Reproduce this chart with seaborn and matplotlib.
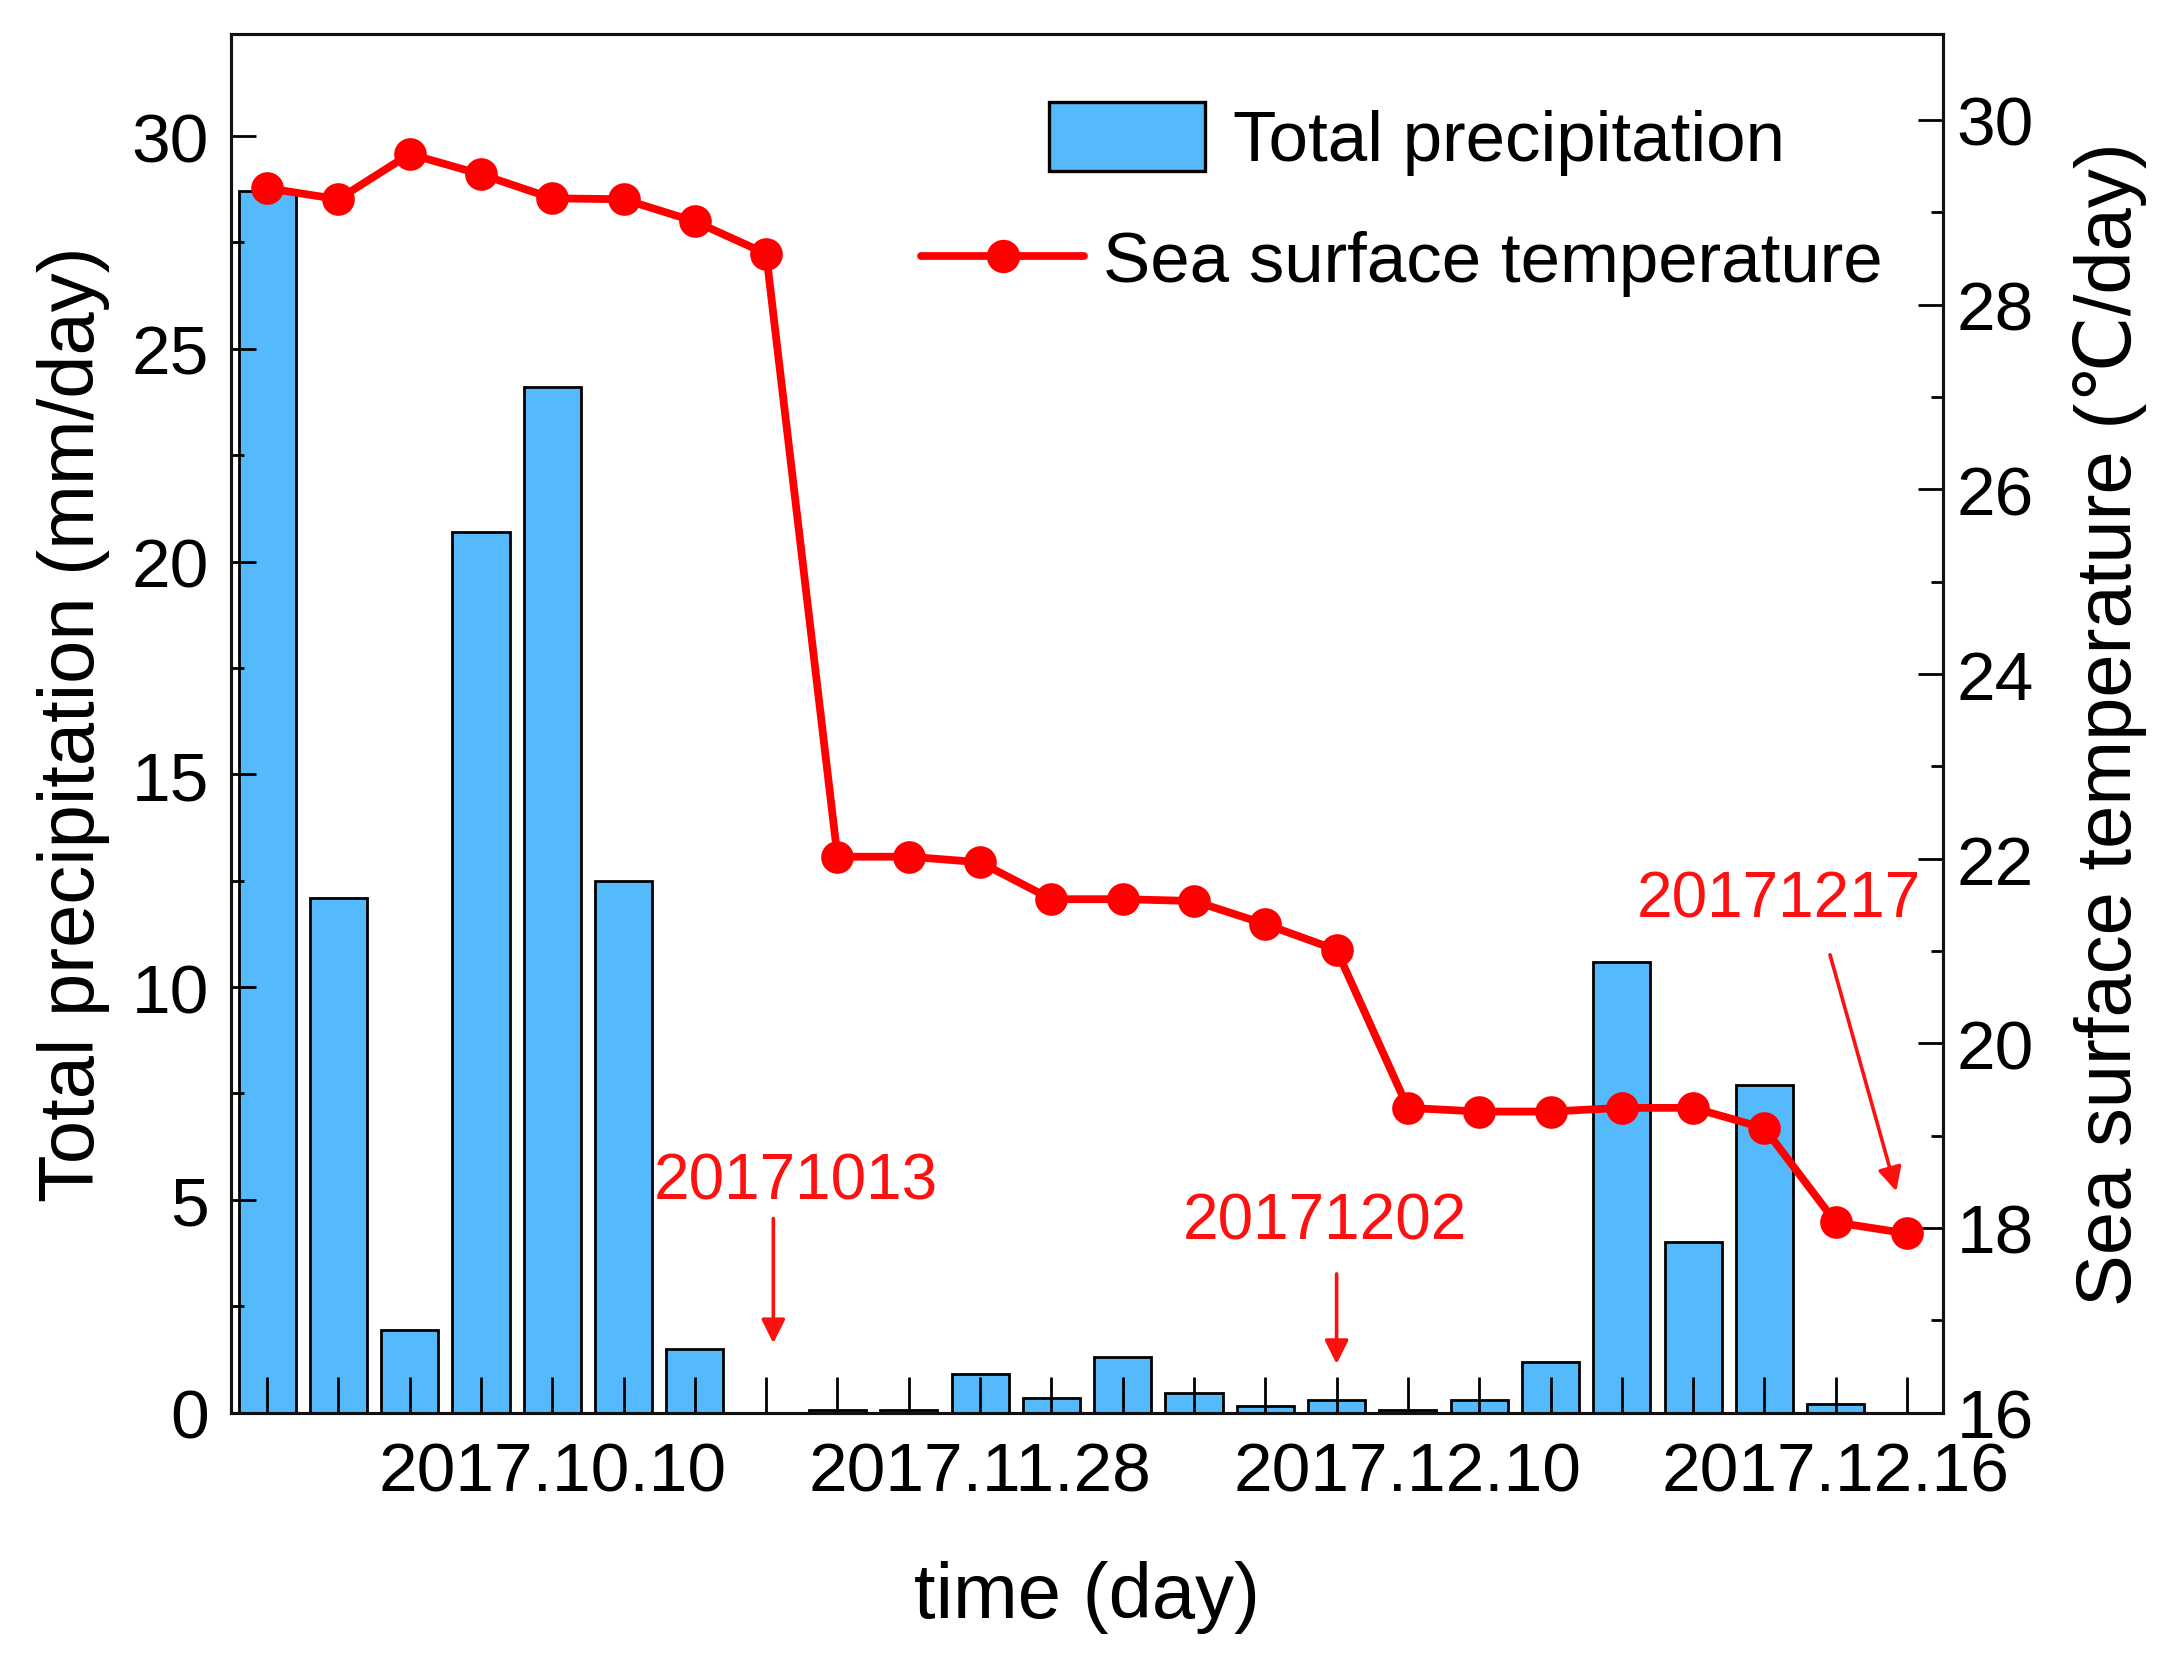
import numpy as np
import pandas as pd
import matplotlib
matplotlib.use("Agg")
import matplotlib.pyplot as plt
from matplotlib.ticker import MultipleLocator
from matplotlib.patches import Patch
from matplotlib.lines import Line2D
import seaborn as sns

# data
day_index = list(range(24))
precipitation = [28.7, 12.1, 1.95, 20.7, 24.1, 12.5, 1.5, 0.0,
                 0.05, 0.05, 0.9, 0.35, 1.3, 0.45, 0.15, 0.3,
                 0.05, 0.3, 1.2, 10.6, 4.0, 7.7, 0.2, 0.0]
sst = [29.26, 29.14, 29.63, 29.41, 29.15, 29.14, 28.9, 28.55,
       22.02, 22.02, 21.96, 21.56, 21.56, 21.54, 21.29, 21.01,
       19.3, 19.26, 19.26, 19.3, 19.3, 19.08, 18.06, 17.94]
tick_labels = {4: "2017.10.10", 10: "2017.11.28", 16: "2017.12.10", 22: "2017.12.16"}
events = ["20171013", "20171202", "20171217"]

sns.set_style("ticks")
plt.rcParams["font.family"] = ["Liberation Sans", "DejaVu Sans"]
plt.rcParams["text.color"] = "black"
plt.rcParams["axes.labelcolor"] = "black"
plt.rcParams["xtick.color"] = "black"
plt.rcParams["ytick.color"] = "black"

df = pd.DataFrame({"day": day_index, "precip": precipitation, "sst": sst})

fig = plt.figure(figsize=(2173 / 200, 1665 / 200), dpi=200)
ax = fig.add_axes([0.1065, 0.151, 0.7875, 0.828])

bar_color = "#55BAFB"
line_color = "#FF0000"
sns.barplot(data=df, x="day", y="precip", native_scale=True, width=0.8,
            color=bar_color, saturation=1, edgecolor="black", linewidth=1.0,
            ax=ax)

ax2 = ax.twinx()
sns.lineplot(data=df, x="day", y="sst", ax=ax2, color=line_color, linewidth=2.8,
             marker="o", markersize=11, markeredgecolor=line_color)

ax.set_axisbelow(False)
ax.set_xlim(-0.5, 23.5)
ax.set_ylim(0, 32.4)
ax2.set_ylim(16, 30.93)

ax.set_xticks(day_index)
ax.set_xticklabels([tick_labels.get(i, "") for i in day_index])
ax.yaxis.set_major_locator(MultipleLocator(5))
ax.yaxis.set_minor_locator(MultipleLocator(2.5))
ax2.yaxis.set_major_locator(MultipleLocator(2))
ax2.yaxis.set_minor_locator(MultipleLocator(1))

ax.tick_params(axis="x", which="major", direction="in", length=13, width=1,
               labelsize=25, pad=10, top=False)
ax.tick_params(axis="y", which="major", direction="in", length=9, width=1,
               labelsize=25, pad=8, right=False)
ax.tick_params(axis="y", which="minor", direction="in", length=4.5, width=1,
               right=False)
ax2.tick_params(axis="y", which="major", direction="in", length=9, width=1,
                labelsize=25, pad=5)
ax2.tick_params(axis="y", which="minor", direction="in", length=4.5, width=1)

for a in (ax, ax2):
    for sp in a.spines.values():
        sp.set_visible(True)
        sp.set_linewidth(1.1)
        sp.set_color("#111111")

ax.set_xlabel("time (day)", fontsize=28, labelpad=20)
ax.set_ylabel("Total precipitation (mm/day)", fontsize=28, labelpad=8)
ax2.set_ylabel("Sea surface temperature (\u2103/day)", fontsize=28, labelpad=14)

# two separate legend rows, placed as in the reference
bar_handle = Patch(facecolor=bar_color, edgecolor="black", linewidth=1.2)
line_handle = Line2D([], [], color=line_color, linewidth=2.8, marker="o",
                     markersize=11, markeredgecolor=line_color)
leg1 = ax2.legend([bar_handle], ["Total precipitation"], loc="center left",
                  bbox_to_anchor=(0.478, 0.924), frameon=False, fontsize=25.5,
                  handlelength=2.2, handleheight=1.12, handletextpad=0.39,
                  borderpad=0, borderaxespad=0)
ax2.add_artist(leg1)
ax2.legend([line_handle], ["Sea surface temperature"], loc="center left",
           bbox_to_anchor=(0.403, 0.834), frameon=False, fontsize=25.5,
           handlelength=2.3, handletextpad=0.27, borderpad=0, borderaxespad=0)

# event annotations
red = "#FF1010"
ax.text(7.42, 5.44, events[0], color=red, fontsize=23, ha="center", va="center")
ax.text(14.83, 4.5, events[1], color=red, fontsize=23, ha="center", va="center")
ax.text(21.2, 12.06, events[2], color=red, fontsize=23, ha="center", va="center")
arrow = dict(arrowstyle="-|>", color=red, lw=1.3, mutation_scale=18,
             shrinkA=0, shrinkB=0)
ax.annotate("", xy=(7.1, 1.63), xytext=(7.1, 4.56), arrowprops=arrow)
ax.annotate("", xy=(15.0, 1.14), xytext=(15.0, 3.26), arrowprops=arrow)
ax.annotate("", xy=(22.85, 5.2), xytext=(21.92, 10.76), arrowprops=arrow)

fig.savefig("out.png", dpi=200)
